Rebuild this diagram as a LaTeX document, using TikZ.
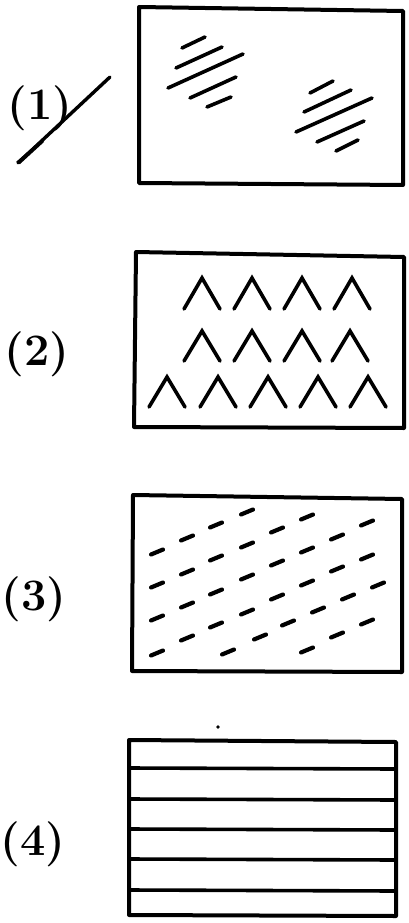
\documentclass[tikz,border=0pt]{standalone}
\begin{document}
\begin{tikzpicture}[x=1pt,y=-1pt,
  frame/.style={line width=4pt,line join=round},
  hatch/.style={line width=3.6pt,line cap=round},
  chev/.style={line width=3.6pt,line cap=round,line join=miter},
  dsh/.style={line width=4.2pt,line cap=round},
  lbl/.style={font=\fontsize{45}{45}\bfseries\selectfont,inner sep=0pt}]
\useasboundingbox[fill=white] (0,0) rectangle (408,923);
% labels
\node[lbl] (l1) at (40,108) {(1)};
\node[lbl] (l2) at (37,354) {(2)};
\node[lbl] (l3) at (34,599) {(3)};
\node[lbl] (l4) at (33,844) {(4)};
\coordinate (s1) at (18,163);
\coordinate (s2) at (110,77);
\draw[line width=3.4pt,line cap=round] (s1) -- (s2);
\fill (s1) ++(-2,-1) -- ++(26,-23) -- ++(2,3) -- ++(-24,22) -- cycle;
% box 1
\draw[frame] (139,7) -- (403,11) -- (403,185) -- (139,183) -- cycle;
\draw[hatch] (182,48) -- (205,37);
\draw[hatch] (176,68) -- (222,47);
\draw[hatch] (168,88) -- (243,54);
\draw[hatch] (190,98) -- (236,77);
\draw[hatch] (207,107) -- (231,97);
\draw[hatch] (310,93) -- (333,81);
\draw[hatch] (304,112) -- (351,90);
\draw[hatch] (296,132) -- (372,98);
\draw[hatch] (317,142) -- (364,121);
\draw[hatch] (336,151) -- (358,140);
% box 2
\draw[frame] (136,252) -- (404,257) -- (404,428) -- (134,427) -- cycle;
\foreach \x in {202,252,302,352}{\draw[chev] (\x-18,309) -- (\x,278) -- (\x+18,309);}
\foreach \x in {202,252,302,350}{\draw[chev] (\x-18,361) -- (\x,331) -- (\x+18,361);}
\foreach \x in {167,218,268,318,368}{\draw[chev] (\x-18,407) -- (\x,377) -- (\x+18,407);}
% box 3
\draw[frame] (133,495) -- (402,499) -- (402,672) -- (132,671) -- cycle;
\foreach \p in {(157,552),(157,585),(157,618),(157,653),
  (187,538),(187,572),(187,605),(187,638),
  (216,525),(216,558),(216,592),(216,625),
  (247,512),(247,545),(247,577),(247,612),
  (277,530),(277,563),(277,597),
  (307,517),(307,550),(307,583),
  (337,537),(337,569),
  (367,523),(367,557),
  (228,652),(260,637),(288,623),(318,610),(348,597),(378,585),
  (307,650),(337,635),(367,622)}
  {\draw[dsh] \p ++(-6,2.5) -- ++(12,-5);}
% box 4
\draw[frame] (129,740) -- (396,742) -- (396,916) -- (129,915) -- cycle;
\foreach \y in {768,799,829,859,890}{\draw[line width=3.6pt] (129,\y) -- (396,\y+1);}
\fill (218,727) circle (1.8);
\end{tikzpicture}
\end{document}
